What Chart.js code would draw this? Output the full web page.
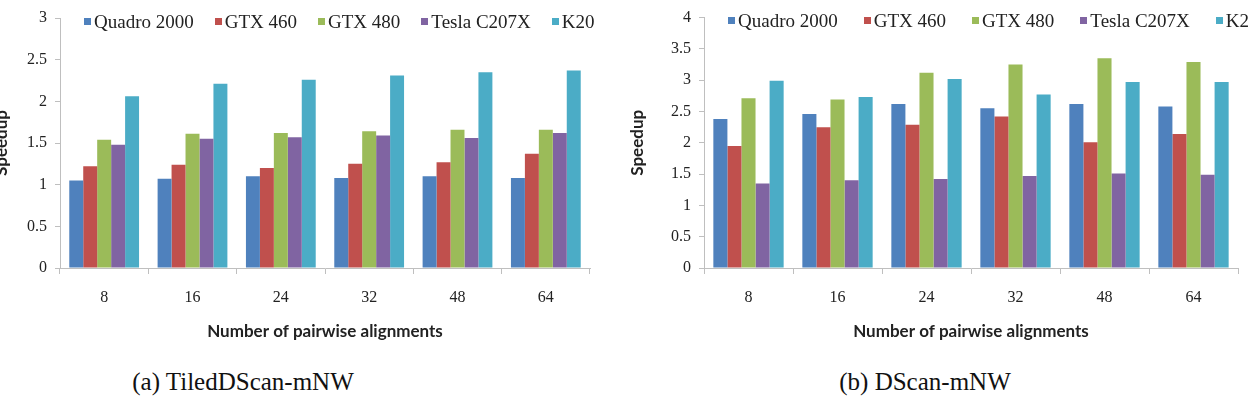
<!DOCTYPE html>
<html>
<head>
<meta charset="utf-8">
<script src="https://cdn.jsdelivr.net/npm/chart.js@4.4.1/dist/chart.umd.min.js"></script>
<style>
    html, body { margin: 0; padding: 0; background: #fff; }
    body { position: relative; width: 1248px; height: 414px; overflow: hidden; }
    .panel { position: absolute; top: 0; height: 342px; }
    .legend { position: absolute; white-space: nowrap; font-family: 'Liberation Serif', serif; font-size: 19px; color: #222; line-height: 20px; }
    .legend span.item { display: inline-block; margin-right: 20px; }
    .legend span.box { display: inline-block; width: 7px; height: 7px; margin-right: 3px; vertical-align: 3px; }
    .caption { position: absolute; top: 368px; font-family: 'Liberation Serif', serif; font-size: 25px; color: #111; transform: translateX(-50%); white-space: nowrap; }
</style>
</head>
<body>
<div class="panel" style="left:-9px; width:633px;"><canvas id="tiledChart"></canvas></div>
<div class="panel" style="left:624px; width:676px;"><canvas id="dscanChart"></canvas></div>
<div class="legend" id="tiledLegend" style="left:84px; top:12px;"></div>
<div class="legend" id="dscanLegend" style="left:728px; top:11px;"></div>
<div class="caption" style="left:243px;">(a) TiledDScan-mNW</div>
<div class="caption" style="left:925px;">(b) DScan-mNW</div>

<script>
const pairCounts = ['8', '16', '24', '32', '48', '64'];
const gpuNames = ['Quadro 2000', 'GTX 460', 'GTX 480', 'Tesla C207X', 'K20'];
const gpuColors = ['#4f81bd', '#c0504d', '#9bbb59', '#8064a2', '#4bacc6'];

// (a) TiledDScan-mNW
const tiledQuadro = [1.05, 1.07, 1.10, 1.08, 1.10, 1.08];
const tiledGtx460 = [1.22, 1.24, 1.20, 1.25, 1.27, 1.37];
const tiledGtx480 = [1.54, 1.61, 1.62, 1.64, 1.66, 1.66];
const tiledTesla = [1.48, 1.55, 1.57, 1.59, 1.56, 1.62];
const tiledK20 = [2.06, 2.21, 2.26, 2.31, 2.35, 2.37];

// (b) DScan-mNW
const dscanQuadro = [2.38, 2.46, 2.62, 2.55, 2.62, 2.58];
const dscanGtx460 = [1.95, 2.25, 2.29, 2.42, 2.01, 2.14];
const dscanGtx480 = [2.71, 2.69, 3.12, 3.25, 3.35, 3.29];
const dscanTesla = [1.35, 1.40, 1.42, 1.47, 1.51, 1.49];
const dscanK20 = [2.99, 2.73, 3.02, 2.77, 2.97, 2.97];

const axisColor = '#bfbfbf';
const tickFont = { family: 'Liberation Serif', size: 16 };
const titleFont = { family: 'Lato', size: 17, weight: 'bold' };

// legend in html so it can sit on the plot like the excel one
const htmlLegend = {
    id: 'htmlLegend',
    afterUpdate(chart, args, options) {
        const box = document.getElementById(options.containerID);
        box.innerHTML = '';
        chart.options.plugins.legend.labels.generateLabels(chart).forEach(item => {
            const el = document.createElement('span');
            el.className = 'item';
            el.style.marginRight = options.gap + 'px';
            const sw = document.createElement('span');
            sw.className = 'box';
            sw.style.background = item.fillStyle;
            el.appendChild(sw);
            el.appendChild(document.createTextNode(item.text));
            box.appendChild(el);
        });
    }
};

function speedupChart(canvasId, legendId, series, yMax, layout) {
    new Chart(document.getElementById(canvasId), {
        type: 'bar',
        data: {
            labels: pairCounts,
            datasets: series.map((values, i) => ({
                label: gpuNames[i],
                data: values,
                backgroundColor: gpuColors[i],
                borderWidth: 0,
                categoryPercentage: 0.79,
                barPercentage: 1
            }))
        },
        options: {
            responsive: true,
            maintainAspectRatio: false,
            animation: false,
            layout: { padding: { top: layout.top, right: layout.right, bottom: 0, left: 0 } },
            plugins: {
                legend: { display: false },
                tooltip: { enabled: false },
                htmlLegend: { containerID: legendId, gap: layout.gap }
            },
            scales: {
                x: {
                    grid: { drawOnChartArea: false, color: axisColor, tickLength: 6 },
                    border: { color: axisColor },
                    ticks: { color: '#222', font: tickFont, padding: 14 },
                    title: { display: true, text: 'Number of pairwise alignments', color: '#222', font: titleFont, padding: 0 },
                    afterFit: scale => { scale.height = 74; }
                },
                y: {
                    min: 0,
                    max: yMax,
                    grid: { drawOnChartArea: false, color: axisColor, tickLength: 5 },
                    border: { color: axisColor },
                    ticks: { stepSize: 0.5, color: '#222', font: tickFont, padding: 8, callback: v => String(v) },
                    title: { display: true, text: 'Speedup', color: '#222', font: titleFont, padding: { top: layout.titlePad, bottom: 0 } },
                    afterFit: scale => { scale.width = layout.yWidth; }
                }
            }
        },
        plugins: [htmlLegend]
    });
}

document.addEventListener('DOMContentLoaded', function () {
    speedupChart('tiledChart', 'tiledLegend',
        [tiledQuadro, tiledGtx460, tiledGtx480, tiledTesla, tiledK20], 3,
        { top: 18, right: 34, yWidth: 69, titlePad: 0, gap: 21 });

    speedupChart('dscanChart', 'dscanLegend',
        [dscanQuadro, dscanGtx460, dscanGtx480, dscanTesla, dscanK20], 4,
        { top: 15, right: 62, yWidth: 80, titlePad: 3, gap: 26 });
});
</script>
</body>
</html>
